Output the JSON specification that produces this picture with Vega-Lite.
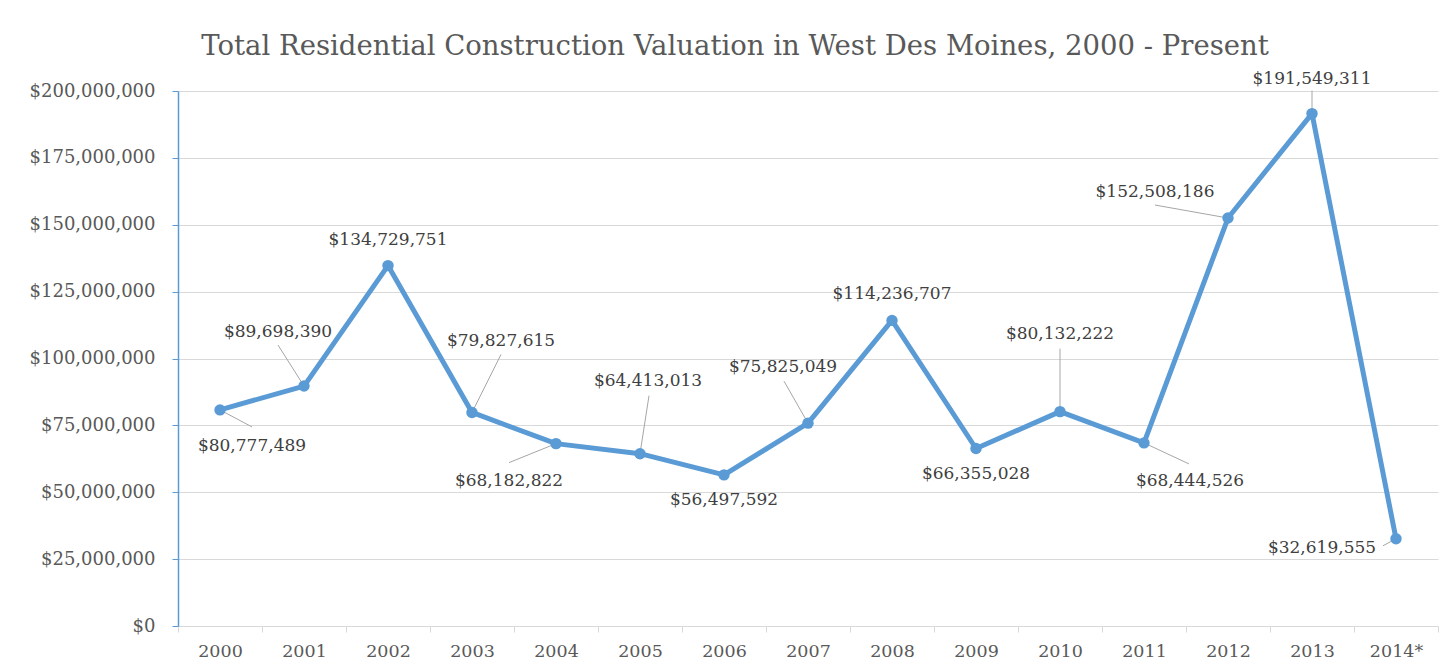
{
  "$schema": "https://vega.github.io/schema/vega-lite/v6.json",
  "autosize": {"type": "none"},
  "width": 1260,
  "height": 535,
  "padding": {"left": 178, "top": 91, "right": 6, "bottom": 46},
  "background": "white",
  "title": {
    "text": "Total Residential Construction Valuation in West Des Moines, 2000 - Present",
    "font": "DejaVu Serif",
    "fontSize": 27.5,
    "fontWeight": "normal",
    "color": "#595959",
    "anchor": "middle",
    "dx": -73,
    "offset": 9
  },
  "config": {
    "view": {"stroke": null},
    "axis": {"labelFont": "DejaVu Serif", "labelColor": "#595959", "gridColor": "#d9d9d9", "gridWidth": 1.2}
  },
  "data": {
    "values": [
      {"year": "2000", "value": 80777489},
      {"year": "2001", "value": 89698390},
      {"year": "2002", "value": 134729751},
      {"year": "2003", "value": 79827615},
      {"year": "2004", "value": 68182822},
      {"year": "2005", "value": 64413013},
      {"year": "2006", "value": 56497592},
      {"year": "2007", "value": 75825049},
      {"year": "2008", "value": 114236707},
      {"year": "2009", "value": 66355028},
      {"year": "2010", "value": 80132222},
      {"year": "2011", "value": 68444526},
      {"year": "2012", "value": 152508186},
      {"year": "2013", "value": 191549311},
      {"year": "2014*", "value": 32619555}
    ]
  },
  "encoding": {
    "x": {
      "field": "year", "type": "nominal", "title": null,
      "sort": ["2000", "2001", "2002", "2003", "2004", "2005", "2006", "2007", "2008", "2009", "2010", "2011", "2012", "2013", "2014*"],
      "scale": {"paddingInner": 0, "paddingOuter": 0},
      "axis": {"labelAngle": 0, "labelFontSize": 17.5, "tickBand": "extent", "domainColor": "#d9d9d9", "tickColor": "#d9d9d9", "tickSize": 6, "labelPadding": 10, "domainWidth": 1.2, "grid": false}
    },
    "y": {
      "field": "value", "type": "quantitative", "title": null,
      "scale": {"domain": [0, 200000000], "nice": false},
      "axis": {"values": [0, 25000000, 50000000, 75000000, 100000000, 125000000, 150000000, 175000000, 200000000], "format": "$,.0f", "labelFontSize": 18, "domainColor": "#5b9bd5", "tickColor": "#5b9bd5", "tickSize": 6, "labelPadding": 17, "domainWidth": 1.5, "grid": true}
    }
  },
  "layer": [
    {"transform": [{"filter": "datum.year == '2000'"}], "mark": {"type": "rule", "color": "#a6a6a6", "strokeWidth": 1, "x2Offset": 32, "y2Offset": 17}, "encoding": {"x2": {"field": "year"}, "y2": {"field": "value"}}},
    {"transform": [{"filter": "datum.year == '2001'"}], "mark": {"type": "rule", "color": "#a6a6a6", "strokeWidth": 1, "x2Offset": -26, "y2Offset": -41}, "encoding": {"x2": {"field": "year"}, "y2": {"field": "value"}}},
    {"transform": [{"filter": "datum.year == '2003'"}], "mark": {"type": "rule", "color": "#a6a6a6", "strokeWidth": 1, "x2Offset": 29, "y2Offset": -58}, "encoding": {"x2": {"field": "year"}, "y2": {"field": "value"}}},
    {"transform": [{"filter": "datum.year == '2004'"}], "mark": {"type": "rule", "color": "#a6a6a6", "strokeWidth": 1, "x2Offset": -47, "y2Offset": 19}, "encoding": {"x2": {"field": "year"}, "y2": {"field": "value"}}},
    {"transform": [{"filter": "datum.year == '2005'"}], "mark": {"type": "rule", "color": "#a6a6a6", "strokeWidth": 1, "x2Offset": 9, "y2Offset": -58}, "encoding": {"x2": {"field": "year"}, "y2": {"field": "value"}}},
    {"transform": [{"filter": "datum.year == '2007'"}], "mark": {"type": "rule", "color": "#a6a6a6", "strokeWidth": 1, "x2Offset": -24, "y2Offset": -42}, "encoding": {"x2": {"field": "year"}, "y2": {"field": "value"}}},
    {"transform": [{"filter": "datum.year == '2010'"}], "mark": {"type": "rule", "color": "#a6a6a6", "strokeWidth": 1, "x2Offset": 0, "y2Offset": -63}, "encoding": {"x2": {"field": "year"}, "y2": {"field": "value"}}},
    {"transform": [{"filter": "datum.year == '2011'"}], "mark": {"type": "rule", "color": "#a6a6a6", "strokeWidth": 1, "x2Offset": 45, "y2Offset": 21}, "encoding": {"x2": {"field": "year"}, "y2": {"field": "value"}}},
    {"transform": [{"filter": "datum.year == '2012'"}], "mark": {"type": "rule", "color": "#a6a6a6", "strokeWidth": 1, "x2Offset": -73, "y2Offset": -13}, "encoding": {"x2": {"field": "year"}, "y2": {"field": "value"}}},
    {"transform": [{"filter": "datum.year == '2013'"}], "mark": {"type": "rule", "color": "#a6a6a6", "strokeWidth": 1, "x2Offset": 0, "y2Offset": -23}, "encoding": {"x2": {"field": "year"}, "y2": {"field": "value"}}},
    {"transform": [{"filter": "datum.year == '2014*'"}], "mark": {"type": "rule", "color": "#a6a6a6", "strokeWidth": 1, "x2Offset": -13, "y2Offset": 7}, "encoding": {"x2": {"field": "year"}, "y2": {"field": "value"}}},
    {"mark": {"type": "line", "color": "#5b9bd5", "strokeWidth": 5, "strokeJoin": "round", "strokeCap": "round"}},
    {"mark": {"type": "circle", "color": "#5b9bd5", "opacity": 1, "size": 130}},
    {"transform": [{"filter": "datum.year == '2000'"}], "mark": {"type": "text", "font": "DejaVu Serif", "fontSize": 17, "color": "#404040", "align": "center", "baseline": "middle", "dx": 32, "dy": 36}, "encoding": {"text": {"field": "value", "format": "$,.0f"}}},
    {"transform": [{"filter": "datum.year == '2001'"}], "mark": {"type": "text", "font": "DejaVu Serif", "fontSize": 17, "color": "#404040", "align": "center", "baseline": "middle", "dx": -26, "dy": -54}, "encoding": {"text": {"field": "value", "format": "$,.0f"}}},
    {"transform": [{"filter": "datum.year == '2002' || datum.year == '2008'"}], "mark": {"type": "text", "font": "DejaVu Serif", "fontSize": 17, "color": "#404040", "align": "center", "baseline": "middle", "dx": 0, "dy": -26}, "encoding": {"text": {"field": "value", "format": "$,.0f"}}},
    {"transform": [{"filter": "datum.year == '2003'"}], "mark": {"type": "text", "font": "DejaVu Serif", "fontSize": 17, "color": "#404040", "align": "center", "baseline": "middle", "dx": 29, "dy": -71}, "encoding": {"text": {"field": "value", "format": "$,.0f"}}},
    {"transform": [{"filter": "datum.year == '2004'"}], "mark": {"type": "text", "font": "DejaVu Serif", "fontSize": 17, "color": "#404040", "align": "center", "baseline": "middle", "dx": -47, "dy": 37}, "encoding": {"text": {"field": "value", "format": "$,.0f"}}},
    {"transform": [{"filter": "datum.year == '2005'"}], "mark": {"type": "text", "font": "DejaVu Serif", "fontSize": 17, "color": "#404040", "align": "center", "baseline": "middle", "dx": 8, "dy": -73}, "encoding": {"text": {"field": "value", "format": "$,.0f"}}},
    {"transform": [{"filter": "datum.year == '2006' || datum.year == '2009'"}], "mark": {"type": "text", "font": "DejaVu Serif", "fontSize": 17, "color": "#404040", "align": "center", "baseline": "middle", "dx": 0, "dy": 25}, "encoding": {"text": {"field": "value", "format": "$,.0f"}}},
    {"transform": [{"filter": "datum.year == '2007'"}], "mark": {"type": "text", "font": "DejaVu Serif", "fontSize": 17, "color": "#404040", "align": "center", "baseline": "middle", "dx": -25, "dy": -56}, "encoding": {"text": {"field": "value", "format": "$,.0f"}}},
    {"transform": [{"filter": "datum.year == '2010'"}], "mark": {"type": "text", "font": "DejaVu Serif", "fontSize": 17, "color": "#404040", "align": "center", "baseline": "middle", "dx": 0, "dy": -78}, "encoding": {"text": {"field": "value", "format": "$,.0f"}}},
    {"transform": [{"filter": "datum.year == '2011'"}], "mark": {"type": "text", "font": "DejaVu Serif", "fontSize": 17, "color": "#404040", "align": "center", "baseline": "middle", "dx": 46, "dy": 38}, "encoding": {"text": {"field": "value", "format": "$,.0f"}}},
    {"transform": [{"filter": "datum.year == '2012'"}], "mark": {"type": "text", "font": "DejaVu Serif", "fontSize": 17, "color": "#404040", "align": "center", "baseline": "middle", "dx": -73, "dy": -26}, "encoding": {"text": {"field": "value", "format": "$,.0f"}}},
    {"transform": [{"filter": "datum.year == '2013'"}], "mark": {"type": "text", "font": "DejaVu Serif", "fontSize": 17, "color": "#404040", "align": "center", "baseline": "middle", "dx": 0, "dy": -35}, "encoding": {"text": {"field": "value", "format": "$,.0f"}}},
    {"transform": [{"filter": "datum.year == '2014*'"}], "mark": {"type": "text", "font": "DejaVu Serif", "fontSize": 17, "color": "#404040", "align": "center", "baseline": "middle", "dx": -74, "dy": 9}, "encoding": {"text": {"field": "value", "format": "$,.0f"}}}
  ]
}
